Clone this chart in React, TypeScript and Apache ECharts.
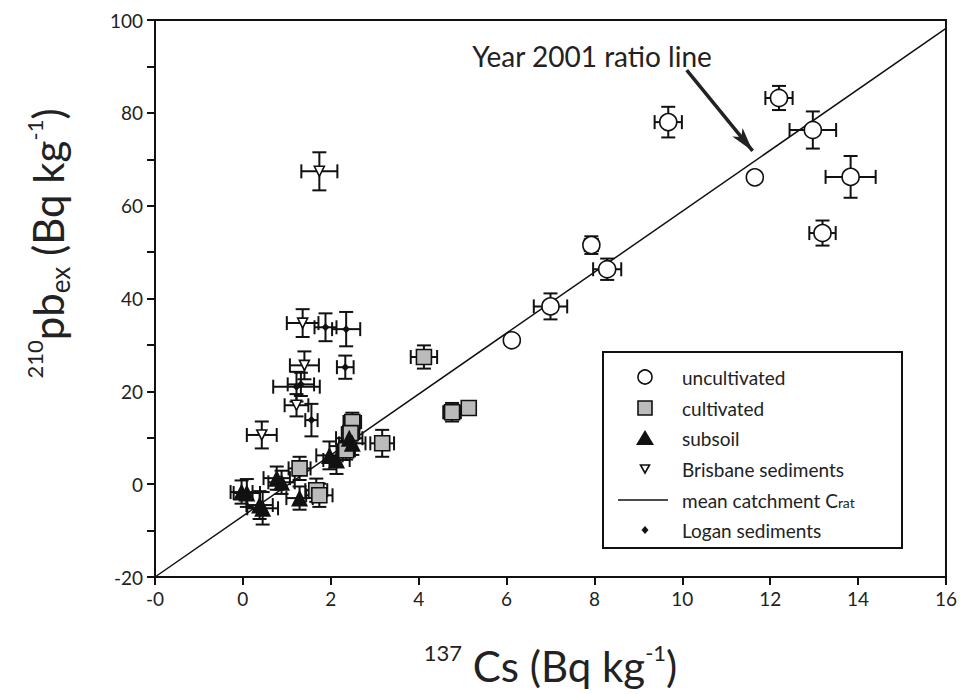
import React, { useEffect, useRef } from "react";
import * as echarts from "echarts";

// [x (137Cs), y (210Pb ex), x error, y error]
const UNCULTIVATED = [
  [6.12, 31.0, 0.1, 1.0],
  [7.0, 38.3, 0.38, 2.8],
  [7.93, 51.5, 0.15, 1.9],
  [8.29, 46.3, 0.32, 2.3],
  [9.68, 78.0, 0.31, 3.3],
  [11.65, 66.1, 0.1, 1.0],
  [12.2, 83.2, 0.31, 2.6],
  [12.97, 76.3, 0.53, 4.0],
  [13.83, 66.2, 0.57, 4.5],
  [13.19, 54.1, 0.3, 2.7],
];
const CULTIVATED = [
  [4.12, 27.4, 0.3, 2.5],
  [4.76, 15.5, 0.2, 2.0],
  [5.14, 16.4, 0.15, 1.5],
  [2.49, 13.4, 0.2, 2.0],
  [3.17, 8.8, 0.27, 2.9],
  [2.35, 7.3, 0.2, 2.0],
  [1.29, 3.4, 0.25, 2.5],
  [1.67, -1.3, 0.25, 2.5],
  [1.74, -2.4, 0.3, 2.5],
  [2.45, 11.0, 0.2, 2.0],
];
const SUBSOIL = [
  [-0.03, -1.7, 0.25, 2.5],
  [0.09, -1.9, 0.3, 3.0],
  [0.38, -4.5, 0.3, 3.0],
  [0.45, -5.2, 0.35, 3.5],
  [0.77, 1.3, 0.3, 2.5],
  [0.88, 0.4, 0.3, 2.5],
  [1.29, -3.0, 0.3, 2.5],
  [1.97, 6.2, 0.3, 3.0],
  [2.13, 5.2, 0.3, 3.0],
  [2.42, 9.9, 0.3, 2.5],
  [2.49, 8.8, 0.3, 2.5],
];
const BRISBANE = [
  [1.74, 67.4, 0.41, 4.1],
  [1.36, 34.7, 0.36, 3.0],
  [1.4, 25.6, 0.33, 3.0],
  [1.22, 17.0, 0.27, 2.4],
  [0.43, 10.6, 0.34, 2.9],
];
const LOGAN = [
  [1.88, 33.8, 0.25, 3.0],
  [2.35, 33.4, 0.32, 3.7],
  [2.33, 25.2, 0.19, 2.5],
  [1.22, 21.0, 0.53, 3.2],
  [1.32, 21.5, 0.3, 2.5],
  [1.56, 13.8, 0.14, 3.5],
];
const RATIO_LINE_X = [-2, 16];
const RATIO_LINE_Y = [-20, 98.2];
const ARROW_FROM = [10.1, 89.2];
const ARROW_TO = [11.6, 71.8];

const X_TICK_LABELS = ["-0", "0", "2", "4", "6", "8", "10", "12", "14", "16"];
const Y_TICK_LABELS = ["-20", "0", "20", "40", "60", "80", "100"];

const FONT = "Lato";
const INK = "#111";

function errorSeries(name: string, data: number[][]) {
  return {
    type: "custom",
    name,
    data,
    encode: { x: 0, y: 1 },
    z: 2,
    silent: true,
    renderItem: (_params: any, api: any) => {
      const x = api.value(0);
      const y = api.value(1);
      const ex = api.value(2);
      const ey = api.value(3);
      const l = api.coord([x - ex, y]);
      const r = api.coord([x + ex, y]);
      const t = api.coord([x, y + ey]);
      const b = api.coord([x, y - ey]);
      const c = 7;
      const style = { stroke: INK, lineWidth: 2, fill: null };
      return {
        type: "group",
        children: [
          { type: "line", shape: { x1: l[0], y1: l[1], x2: r[0], y2: r[1] }, style },
          { type: "line", shape: { x1: l[0], y1: l[1] - c, x2: l[0], y2: l[1] + c }, style },
          { type: "line", shape: { x1: r[0], y1: r[1] - c, x2: r[0], y2: r[1] + c }, style },
          { type: "line", shape: { x1: t[0], y1: t[1], x2: b[0], y2: b[1] }, style },
          { type: "line", shape: { x1: t[0] - c, y1: t[1], x2: t[0] + c, y2: t[1] }, style },
          { type: "line", shape: { x1: b[0] - c, y1: b[1], x2: b[0] + c, y2: b[1] }, style },
        ],
      };
    },
  };
}

function legendGraphic() {
  const symX = 645;
  const textX = 682;
  const rows = [377, 408, 438, 469, 500, 530];
  const labels = [
    "uncultivated",
    "cultivated",
    "subsoil",
    "Brisbane sediments",
    "mean catchment C{sub|rat}",
    "Logan sediments",
  ];
  const children: any[] = [
    {
      type: "rect",
      shape: { x: 603, y: 352, width: 299, height: 196 },
      style: { fill: "#fff", stroke: INK, lineWidth: 2 },
    },
    { type: "circle", shape: { cx: symX, cy: rows[0], r: 7 }, style: { fill: "#fff", stroke: INK, lineWidth: 1.6 } },
    { type: "rect", shape: { x: symX - 7, y: rows[1] - 7, width: 14, height: 14 }, style: { fill: "#bbbbbb", stroke: INK, lineWidth: 1.6 } },
    {
      type: "polygon",
      shape: { points: [[symX, rows[2] - 8], [symX + 9, rows[2] + 7], [symX - 9, rows[2] + 7]] },
      style: { fill: INK },
    },
    {
      type: "polygon",
      shape: { points: [[symX - 4.5, rows[3] - 4], [symX + 4.5, rows[3] - 4], [symX, rows[3] + 4]] },
      style: { fill: "#fff", stroke: INK, lineWidth: 1.6 },
    },
    { type: "line", shape: { x1: 618, y1: rows[4], x2: 668, y2: rows[4] }, style: { stroke: INK, lineWidth: 1.6 } },
    {
      type: "polygon",
      shape: { points: [[symX, rows[5] - 4], [symX + 3.5, rows[5]], [symX, rows[5] + 4], [symX - 3.5, rows[5]]] },
      style: { fill: INK },
    },
  ];
  labels.forEach((lab, i) => {
    children.push({
      type: "text",
      x: textX,
      y: rows[i],
      style: {
        text: lab,
        fontFamily: FONT,
        fontSize: 19,
        fill: "#222",
        verticalAlign: "middle",
        align: "left",
        rich: {
          sub: { fontSize: 14, lineHeight: 12, verticalAlign: "bottom", fontFamily: FONT, fill: "#222" },
        },
      },
    });
  });
  return { type: "group", z: 100, children };
}

export default function App() {
  const ref = useRef<HTMLDivElement>(null);
  useEffect(() => {
    if (!ref.current) return;
    const chart = echarts.init(ref.current, undefined, { renderer: "svg" });
    const scatterBase = (name: string, data: number[][], extra: any) => ({
      type: "scatter",
      name,
      data: data.map((d) => [d[0], d[1]]),
      z: 3,
      silent: true,
      ...extra,
    });
    const option: any = {
      animation: false,
      backgroundColor: "#fff",
      textStyle: { fontFamily: FONT },
      grid: {
        left: 155,
        right: 11,
        top: 20,
        bottom: 117,
        show: true,
        borderColor: INK,
        borderWidth: 2,
        backgroundColor: "transparent",
      },
      xAxis: {
        type: "value",
        min: -2,
        max: 16,
        interval: 2,
        splitLine: { show: false },
        axisLine: { show: true, onZero: false, lineStyle: { color: INK, width: 2 } },
        axisTick: { show: true, length: 8, lineStyle: { color: INK, width: 2 } },
        axisLabel: {
          fontSize: 19,
          color: "#222",
          margin: 12,
          fontFamily: FONT,
          formatter: (v: number) => X_TICK_LABELS[Math.round((v + 2) / 2)] ?? "",
        },
        name: "{sup|137}{big| Cs (Bq kg}{sup|-1}{big|)}",
        nameLocation: "middle",
        nameGap: 64,
        nameTextStyle: {
          rich: {
            big: { fontSize: 42, lineHeight: 50, fontFamily: FONT, color: "#222", verticalAlign: "middle" },
            sup: { fontSize: 22, lineHeight: 34, fontFamily: FONT, color: "#222", verticalAlign: "top" },
          },
        },
      },
      yAxis: {
        type: "value",
        min: -20,
        max: 100,
        interval: 10,
        splitLine: { show: false },
        axisLine: { show: true, onZero: false, lineStyle: { color: INK, width: 2 } },
        axisTick: { show: true, length: 8, lineStyle: { color: INK, width: 2 } },
        axisLabel: {
          fontSize: 19,
          color: "#222",
          margin: 12,
          fontFamily: FONT,
          formatter: (v: number) => (v % 20 === 0 ? Y_TICK_LABELS[(v + 20) / 20] ?? "" : ""),
        },
        name: "{sup|210}{big|pb}{sub|ex}{big| (Bq kg}{sup|-1}{big|)}",
        nameLocation: "middle",
        nameRotate: 90,
        nameGap: 82,
        nameTextStyle: {
          padding: [0, 0, 0, 110],
          rich: {
            big: { fontSize: 42, lineHeight: 50, fontFamily: FONT, color: "#222", verticalAlign: "middle" },
            sup: { fontSize: 22, lineHeight: 34, fontFamily: FONT, color: "#222", verticalAlign: "top" },
            sub: { fontSize: 26, lineHeight: 26, fontFamily: FONT, color: "#222", verticalAlign: "bottom" },
          },
        },
      },
      graphic: [
        {
          type: "text",
          x: 592,
          y: 56,
          z: 100,
          style: {
            text: "Year 2001 ratio line",
            fontFamily: FONT,
            fontSize: 28,
            fill: "#222",
            align: "center",
            verticalAlign: "middle",
          },
        },
        legendGraphic(),
      ],
      series: [
        {
          type: "line",
          name: "mean catchment Crat",
          data: RATIO_LINE_X.map((x, i) => [x, RATIO_LINE_Y[i]]),
          showSymbol: false,
          symbol: "none",
          z: 1,
          silent: true,
          lineStyle: { color: INK, width: 1.5 },
          markLine: {
            silent: true,
            symbol: ["none", "arrow"],
            symbolSize: [10, 24],
            label: { show: false },
            lineStyle: { color: "#222", width: 3.5, type: "solid" },
            data: [[{ coord: ARROW_FROM }, { coord: ARROW_TO }]],
          },
        },
        errorSeries("uncultivated error", UNCULTIVATED),
        errorSeries("cultivated error", CULTIVATED),
        errorSeries("subsoil error", SUBSOIL),
        errorSeries("Brisbane error", BRISBANE),
        errorSeries("Logan error", LOGAN),
        scatterBase("uncultivated", UNCULTIVATED, {
          symbol: "circle",
          symbolSize: 17,
          itemStyle: { color: "#fff", borderColor: INK, borderWidth: 1.6, opacity: 1 },
        }),
        scatterBase("cultivated", CULTIVATED, {
          symbol: "rect",
          symbolSize: 15,
          itemStyle: { color: "#bbbbbb", borderColor: INK, borderWidth: 1.6, opacity: 1 },
        }),
        scatterBase("subsoil", SUBSOIL, {
          symbol: "triangle",
          symbolSize: 17,
          itemStyle: { color: INK, opacity: 1 },
        }),
        scatterBase("Brisbane sediments", BRISBANE, {
          symbol: "triangle",
          symbolRotate: 180,
          symbolSize: 10,
          itemStyle: { color: "#fff", borderColor: INK, borderWidth: 1.6, opacity: 1 },
        }),
        scatterBase("Logan sediments", LOGAN, {
          symbol: "diamond",
          symbolSize: 8,
          itemStyle: { color: INK, opacity: 1 },
        }),
      ],
    };
    chart.setOption(option);
    return () => chart.dispose();
  }, []);
  return (
    <div
      ref={ref}
      style={{ position: "fixed", left: 0, top: 0, width: 960, height: 694, background: "#fff" }}
    />
  );
}
